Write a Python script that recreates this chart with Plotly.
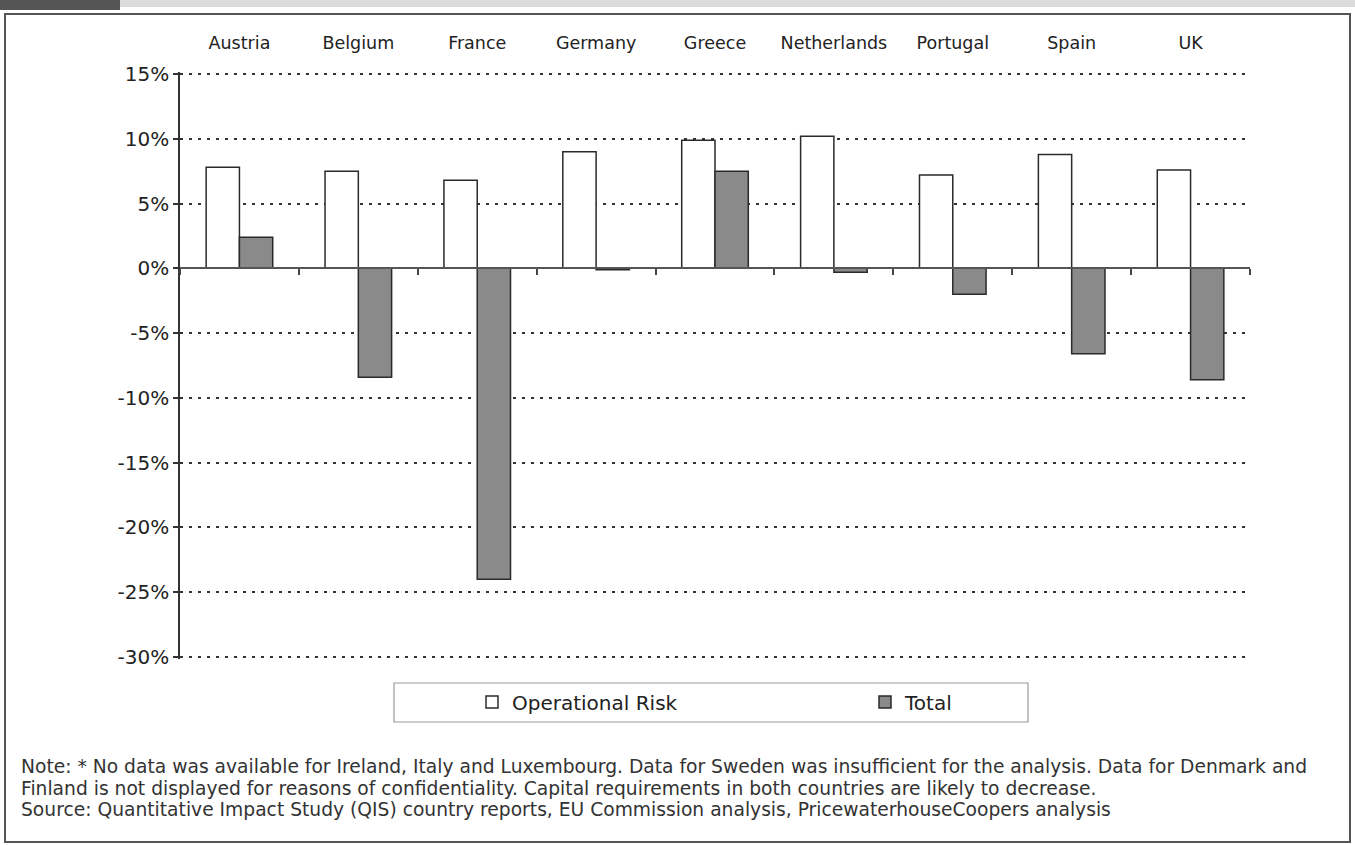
import plotly.graph_objects as go

# Change in capital requirements by country (percent)
countries = ["Austria", "Belgium", "France", "Germany", "Greece",
             "Netherlands", "Portugal", "Spain", "UK"]
operational_risk = [7.8, 7.5, 6.8, 9.0, 9.9, 10.2, 7.2, 8.8, 7.6]
total = [2.4, -8.4, -24.0, -0.1, 7.5, -0.3, -2.0, -6.6, -8.6]

tick_values = [15, 10, 5, 0, -5, -10, -15, -20, -25, -30]
tick_labels = ["15%", "10%", "5%", "0%", "-5%", "-10%", "-15%", "-20%", "-25%", "-30%"]

note_lines = [
    "Note: * No data was available for Ireland, Italy and Luxembourg. Data for Sweden was insufficient for the analysis. Data for Denmark and",
    "Finland is not displayed for reasons of confidentiality. Capital requirements in both countries are likely to decrease.",
    "Source: Quantitative Impact Study (QIS) country reports, EU Commission analysis, PricewaterhouseCoopers analysis",
]

W, H = 1355, 845
M_L, M_R, M_T, M_B = 180, 105, 72, 186
PLOT_W = W - M_L - M_R
PLOT_H = H - M_T - M_B
# padding of ~2px keeps the end gridlines (15% and -30%) from being clipped
Y_MIN, Y_MAX = -30.16, 15.16

FONT = "DejaVu Sans, Liberation Sans, Arial, sans-serif"
INK = "#222222"


def px(x):
    """Page pixel column -> paper (plot-area normalised) x."""
    return (x - M_L) / PLOT_W


def py(y):
    """Page pixel row (from top) -> paper (plot-area normalised) y."""
    return (H - M_B - y) / PLOT_H


zero_pos = (0 - Y_MIN) / (Y_MAX - Y_MIN)

fig = go.Figure()
fig.add_trace(go.Bar(
    name="Operational Risk", x=countries, y=operational_risk,
    marker=dict(color="#ffffff", line=dict(color="#2a2a2a", width=1.5)),
    legend="legend", hoverinfo="x+y",
))
fig.add_trace(go.Bar(
    name="Total", x=countries, y=total,
    marker=dict(color="#8a8a8a", line=dict(color="#2a2a2a", width=1.5)),
    legend="legend2", hoverinfo="x+y",
))
# carrier for the category labels printed above the plot
fig.add_trace(go.Scatter(
    x=countries, y=operational_risk, xaxis="x2", yaxis="y",
    mode="markers", marker=dict(opacity=0), hoverinfo="skip", showlegend=False,
))

cat_range = [-0.5, len(countries) - 0.5]

fig.update_layout(
    width=W, height=H,
    margin=dict(l=M_L, r=M_R, t=M_T, b=M_B),
    paper_bgcolor="white", plot_bgcolor="white",
    barmode="group", bargap=0.44, bargroupgap=0,
    font=dict(family=FONT, color=INK),
    # category axis drawn along the zero line with boundary ticks
    xaxis=dict(
        type="category", categoryorder="array", categoryarray=countries,
        range=cat_range, anchor="free", position=zero_pos, side="bottom",
        tickson="boundaries", ticks="outside", ticklen=6, tickwidth=1.5,
        tickcolor="#444444", showticklabels=False, showgrid=False,
        showline=True, linecolor="#555555", linewidth=1.5, zeroline=False,
    ),
    xaxis2=dict(
        type="category", categoryorder="array", categoryarray=countries,
        range=cat_range, overlaying="x", anchor="y", side="top",
        showline=False, ticks="", showgrid=False, zeroline=False,
        tickfont=dict(size=17.5, color=INK), ticklabelstandoff=19,
    ),
    yaxis=dict(
        range=[Y_MIN, Y_MAX], tickvals=tick_values, ticktext=tick_labels,
        tickfont=dict(size=20, color=INK),
        showline=True, linecolor="#333333", linewidth=1.5,
        ticks="outside", ticklen=5, tickwidth=1.5, tickcolor="#333333",
        showgrid=True, gridcolor="#333333", gridwidth=2, griddash="3px,6px",
        zeroline=False,
    ),
    legend=dict(
        x=px(472), y=py(702), xanchor="left", yanchor="middle",
        orientation="h", bgcolor="rgba(0,0,0,0)", borderwidth=0,
        font=dict(size=20, color=INK),
    ),
    legend2=dict(
        x=px(865), y=py(702), xanchor="left", yanchor="middle",
        orientation="h", bgcolor="rgba(0,0,0,0)", borderwidth=0,
        font=dict(size=20, color=INK),
    ),
    showlegend=True,
)

# page frame, header strip and legend box
shapes = [
    dict(type="rect", xref="paper", yref="paper", x0=px(0), x1=px(120), y0=py(10), y1=py(0),
         fillcolor="#555555", line=dict(width=0), layer="below"),
    dict(type="rect", xref="paper", yref="paper", x0=px(120), x1=px(1355), y0=py(7), y1=py(0),
         fillcolor="#dcdcdc", line=dict(width=0), layer="below"),
    dict(type="rect", xref="paper", yref="paper", x0=px(5), x1=px(1350), y0=py(842), y1=py(14),
         fillcolor="rgba(0,0,0,0)", line=dict(color="#555555", width=2), layer="below"),
    dict(type="rect", xref="paper", yref="paper", x0=px(394), x1=px(1028), y0=py(722), y1=py(683),
         fillcolor="white", line=dict(color="#9a9a9a", width=1.2), layer="below"),
]
fig.update_layout(shapes=shapes)

for i, line in enumerate(note_lines):
    fig.add_annotation(
        text=line, xref="paper", yref="paper", x=px(19), y=py(766 + 22 * i),
        xanchor="left", yanchor="middle", showarrow=False,
        font=dict(size=18.7, color="#333333", family=FONT), align="left",
    )

fig.write_html("out.html")
